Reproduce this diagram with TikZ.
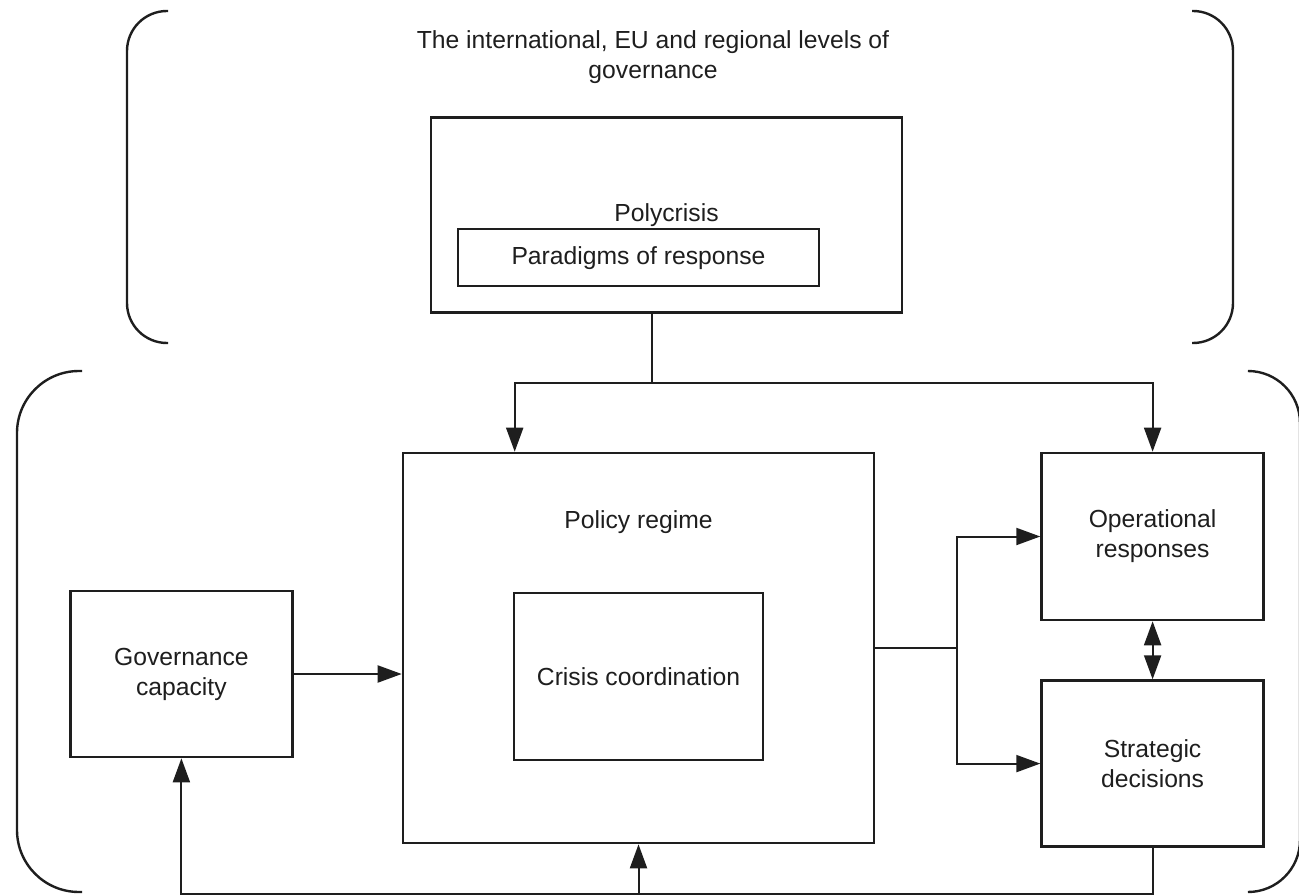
\documentclass[tikz,border=0pt]{standalone}
\usepackage{fontspec}
\setmainfont{Liberation Sans}
\usetikzlibrary{arrows.meta,positioning,calc}
\definecolor{ink}{RGB}{30,30,30}

\begin{document}
\begin{tikzpicture}[x=1pt,y=-1pt,>={Triangle[length=24pt,width=17pt]},font=\fontsize{24.7}{30}\selectfont]
  \tikzstyle{block}=[rectangle,draw=ink,line width=2.6pt,align=center,inner sep=0pt,text=ink]
  \tikzstyle{line}=[draw=ink,line width=2pt]
  \tikzstyle{bracket}=[draw=ink,line width=2.4pt]
  \useasboundingbox (0,0) rectangle (1299,896);
  \clip (0,0) rectangle (1299,896);
  % brackets for the two levels
  \draw[bracket,rounded corners=40pt] (168,11) -- (127,11) -- (127,343) -- (168,343);
  \draw[bracket,rounded corners=40pt] (1192,11) -- (1233,11) -- (1233,343) -- (1192,343);
  \draw[bracket,rounded corners=62pt] (82,371) -- (17,371) -- (17,892) -- (82,892);
  \draw[bracket,rounded corners=52pt] (1250,371) -- (1300,371) -- (1300,892) -- (1250,892);
  \node[align=center,text=ink] (title) at (653,57) {The international, EU and regional levels of\\governance};
  % blocks
  \node[block,minimum width=471pt,minimum height=390pt] (policy) at (638.5,648) {};
  \node[text=ink] (policylabel) at ($(policy.north)+(0,70)$) {Policy regime};
  \node[block,minimum width=249pt,minimum height=167pt] (crisis) at ($(policy)+(0,28.5)$) {Crisis coordination};
  \node[block,minimum width=471pt,minimum height=195pt,above=138pt of policy,xshift=28pt] (poly) {Polycrisis};
  \node[block,minimum width=361pt,minimum height=57pt,line width=2pt] (paradigm) at ($(poly)+(-28,43)$) {Paradigms of response};
  \node[block,minimum width=222pt,minimum height=166pt,left=110pt of policy,yshift=-26pt,xshift=2pt] (gov) {Governance\\capacity};
  \node[block,minimum width=222pt,minimum height=167pt,right=165pt of policy.north east,anchor=north west] (ops) {Operational\\responses};
  \node[block,minimum width=222pt,minimum height=166pt,below=58pt of ops] (strat) {Strategic\\decisions};
  % connectors
  \draw[line] ($(poly.south)+(-14.5,0)$) -- ++(0,69) coordinate (split);
  \draw[line,->] (split) -| ($(policy.north west)+(113,0)$);
  \draw[line,->] (split) -| (ops.north);
  \draw[line,->] (gov.east) -- (gov.east -| policy.west);
  \draw[line] (policy.east) -- ++(82,0) coordinate (branch);
  \draw[line,->] (branch) |- (ops.west);
  \draw[line,->] (branch) |- (strat.west);
  \draw[line,<->] (ops.south) -- (strat.north);
  \draw[line,->] (strat.south) -- ++(0,46) coordinate (back) -| (gov.south);
  \draw[line,->] (back -| policy.south) -- (policy.south);
\end{tikzpicture}
\end{document}
